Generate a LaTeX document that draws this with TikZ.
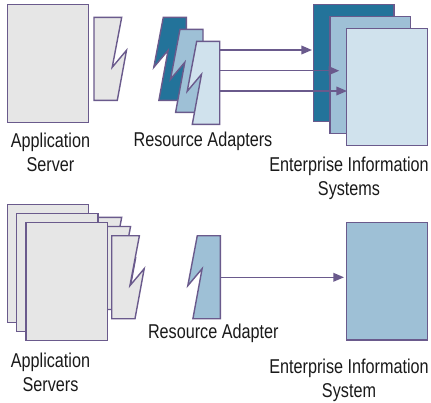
\documentclass[tikz,border=0pt]{standalone}
\usepackage{fontspec}
\setmainfont[FakeStretch=0.81]{Liberation Sans}
\usetikzlibrary{arrows.meta}

\definecolor{edge}{HTML}{6A5A8C}
\definecolor{grayfill}{HTML}{E6E6E6}
\definecolor{darkblue}{HTML}{23739A}
\definecolor{midblue}{HTML}{9EC0D6}
\definecolor{lightblue}{HTML}{D0E2ED}
\definecolor{ink}{HTML}{1A1A1A}

\tikzset{
  shape edge/.style={draw=edge, line width=1.4pt, line join=miter},
  box/.style={shape edge, rectangle, inner sep=0pt, outer sep=0pt, anchor=north west},
  srvbox/.style={box, fill=grayfill, minimum width=81.4pt, minimum height=118pt},
  eisbox/.style={box, minimum width=80.7pt, minimum height=117pt},
  % plug of an application server: straight left side, jagged right side
  plug/.pic={\path[pic actions] (0,0) -- (27.7,0) -- (18.2,50) -- (32.5,33) -- (23.3,83) -- (0,83) -- cycle;},
  % resource adapter: jagged left side, straight right side
  adapter/.pic={\path[pic actions] (0,0) -- (23,0) -- (23,83) -- (-4.4,83) -- (4.8,33) -- (-9.5,50) -- cycle;},
  link/.style={draw=edge, line width=1.5pt, -{Triangle[length=10.7pt,width=8.7pt]}},
  % base anchor of a two-line label sits on its last line
  lbl/.style={font=\fontsize{20}{24}\selectfont, text=ink, inner sep=0pt, align=center, anchor=base},
}

\begin{document}
\begin{tikzpicture}[x=1pt, y=-1pt]
\useasboundingbox[fill=white] (0,0) rectangle (431,402);

% ---------- one server, several adapters, several EIS ----------
\node[srvbox] (srv) at (7.3,4.7) {};
\pic[shape edge, fill=grayfill] (srvplug) at (94,17.3) {plug};

\pic[shape edge, fill=darkblue]  (ra1) at (163.3,17.3) {adapter};
\pic[shape edge, fill=midblue]   (ra2) at (180,29.3) {adapter};
\pic[shape edge, fill=lightblue] (ra3) at (196.7,41.3) {adapter};

\node[eisbox, fill=darkblue]  (eis1) at (313.3,4.7) {};
\node[eisbox, fill=midblue]   (eis2) at (330,16.7) {};
\node[eisbox, fill=lightblue] (eis3) at (346.7,28.3) {};

\coordinate (s1) at (220,50);
\coordinate (s2) at (220,70.7);
\coordinate (s3) at (220,91);
\coordinate (t1) at (312,50);
\coordinate (t2) at (339.3,70.7);
\coordinate (t3) at (347,91);
\draw[link] (s1) -- (t1);
\draw[link] (s2) -- (t2);
\draw[link] (s3) -- (t3);

\node[lbl] (lsrv) at (50.5,171.7) {Application\\Server};
\node[lbl] (lra)  at (203,146.7) {Resource Adapters};
\node[lbl] (leis) at (349,195.7) {Enterprise Information\\Systems};

% ---------- several servers, one adapter, one EIS ----------
\node[srvbox] (srvA) at (7.3,204.7) {};
\pic[shape edge, fill=grayfill] (plugA) at (94,217.3) {plug};
\node[srvbox] (srvB) at (16.65,213.7) {};
\pic[shape edge, fill=grayfill] (plugB) at (102.85,226.5) {plug};
\node[srvbox] (srvC) at (26,222.7) {};
\pic[shape edge, fill=grayfill] (plugC) at (111.7,235.7) {plug};

\pic[shape edge, fill=midblue] (ra) at (197.3,235.7) {adapter};

\node[eisbox, fill=midblue, minimum height=117.3pt] (eis) at (346.7,222.7) {};

\coordinate (s4) at (220.3,277.3);
\draw[link, shorten >=2.7pt] (s4) -- (eis.west |- s4);

\node[lbl] (lsrvs) at (50.5,391.3) {Application\\Servers};
\node[lbl] (lra1)  at (213.3,338.3) {Resource Adapter};
\node[lbl] (leis1) at (349,397.3) {Enterprise Information\\System};
\end{tikzpicture}
\end{document}
